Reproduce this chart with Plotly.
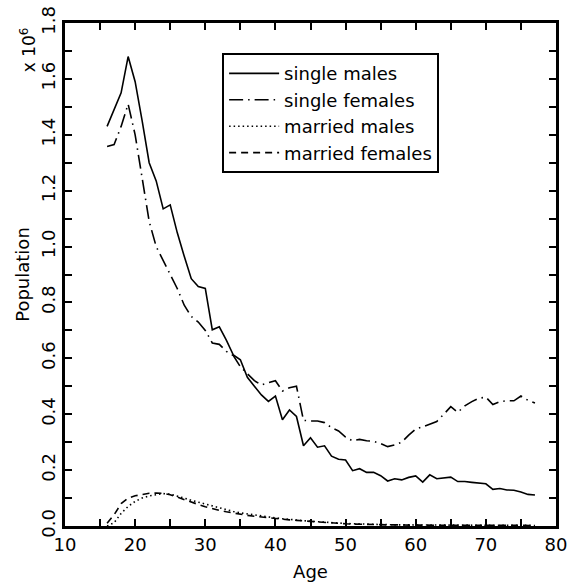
import plotly.graph_objects as go

ages = list(range(16, 78))

single_males = [1.43, 1.49, 1.55, 1.68, 1.59, 1.45, 1.30, 1.235, 1.135, 1.149,
                1.05, 0.965, 0.885, 0.857, 0.85, 0.702, 0.713, 0.665, 0.612, 0.595,
                0.532, 0.50, 0.469, 0.446, 0.465, 0.38, 0.415, 0.392, 0.287, 0.316,
                0.282, 0.287, 0.25, 0.239, 0.236, 0.198, 0.205, 0.192, 0.192, 0.18,
                0.161, 0.169, 0.165, 0.174, 0.179, 0.157, 0.183, 0.169, 0.171, 0.175,
                0.159, 0.159, 0.156, 0.153, 0.151, 0.131, 0.134, 0.129, 0.128, 0.122,
                0.113, 0.111]

single_females = [1.358, 1.365, 1.43, 1.51, 1.40, 1.25, 1.09, 1.00, 0.95, 0.90,
                  0.85, 0.79, 0.75, 0.73, 0.70, 0.655, 0.65, 0.625, 0.61, 0.57,
                  0.545, 0.52, 0.505, 0.513, 0.52, 0.483, 0.495, 0.50, 0.378, 0.376,
                  0.376, 0.37, 0.352, 0.34, 0.318, 0.305, 0.31, 0.305, 0.303, 0.295,
                  0.284, 0.29, 0.30, 0.325, 0.347, 0.355, 0.365, 0.374, 0.40, 0.427,
                  0.407, 0.43, 0.445, 0.457, 0.461, 0.435, 0.445, 0.448, 0.448, 0.465,
                  0.45, 0.44]

married_males = [0.0, 0.012, 0.045, 0.07, 0.088, 0.10, 0.108, 0.113, 0.116, 0.114,
                 0.108, 0.100, 0.092, 0.085, 0.078, 0.071, 0.064, 0.058, 0.052, 0.047,
                 0.043, 0.039, 0.035, 0.032, 0.029, 0.026, 0.023, 0.021, 0.019, 0.017,
                 0.015, 0.013, 0.011, 0.010, 0.009, 0.008, 0.007, 0.006, 0.006, 0.005,
                 0.005, 0.004, 0.004, 0.004, 0.003, 0.003, 0.003, 0.003, 0.003, 0.003,
                 0.002, 0.002, 0.002, 0.002, 0.002, 0.002, 0.002, 0.002, 0.002, 0.002,
                 0.002, 0.002]

married_females = [0.01, 0.04, 0.08, 0.10, 0.108, 0.113, 0.117, 0.118, 0.117, 0.112,
                   0.103, 0.093, 0.085, 0.077, 0.069, 0.062, 0.056, 0.051, 0.046, 0.042,
                   0.038, 0.035, 0.032, 0.029, 0.027, 0.024, 0.022, 0.020, 0.018, 0.016,
                   0.014, 0.012, 0.010, 0.009, 0.008, 0.007, 0.006, 0.005, 0.005, 0.004,
                   0.004, 0.004, 0.003, 0.003, 0.003, 0.003, 0.003, 0.002, 0.002, 0.002,
                   0.002, 0.002, 0.002, 0.002, 0.002, 0.002, 0.002, 0.002, 0.002, 0.002,
                   0.002, 0.002]

series_names = ["single males", "single females", "married males", "married females"]

x_tickvals = list(range(10, 81, 5))
x_ticktext = [str(v) if v % 10 == 0 else "" for v in x_tickvals]
y_tickvals = [round(i * 0.1, 1) for i in range(0, 19)]
y_ticktext = [f"{v:.1f}" if i % 2 == 0 else "" for i, v in enumerate(y_tickvals)]

FONT = "DejaVu Sans"

fig = go.Figure()
styles = [
    dict(color="black", width=1.6, dash="solid"),
    dict(color="black", width=1.6, dash="14px,5px,1.5px,5px"),
    dict(color="black", width=1.6, dash="1.5px,3px"),
    dict(color="black", width=1.6, dash="7px,5px"),
]
for name, vals, st in zip(series_names,
                          [single_males, single_females, married_males, married_females],
                          styles):
    fig.add_trace(go.Scatter(x=ages, y=vals, mode="lines", name=name, line=st))

fig.update_layout(
    width=569, height=582,
    margin=dict(l=65, r=13, t=23, b=56),
    paper_bgcolor="white", plot_bgcolor="white",
    font=dict(family=FONT, size=18, color="black"),
    showlegend=True,
    legend=dict(
        x=0.32, y=0.94, xanchor="left", yanchor="top",
        bordercolor="black", borderwidth=2, bgcolor="white",
        font=dict(family=FONT, size=18),
        itemwidth=50,
        tracegroupgap=0,
    ),
    xaxis=dict(
        range=[10, 80], tickmode="array", tickvals=x_tickvals, ticktext=x_ticktext,
        ticks="inside", ticklen=7, tickwidth=2, tickcolor="black",
        showline=True, linewidth=3, linecolor="black", mirror="allticks",
        showgrid=False, zeroline=False,
        title=dict(text="Age", font=dict(size=18), standoff=12),
        tickfont=dict(size=18), automargin=False,
    ),
    yaxis=dict(
        range=[0, 1.8], tickmode="array", tickvals=y_tickvals, ticktext=y_ticktext,
        ticks="inside", ticklen=7, tickwidth=2, tickcolor="black",
        showline=True, linewidth=3, linecolor="black", mirror="allticks",
        showgrid=False, zeroline=False, tickangle=-90,
        title=dict(text="Population", font=dict(size=18), standoff=4),
        tickfont=dict(size=18), automargin=False,
    ),
    annotations=[
        dict(text="x 10<sup>6</sup>", xref="paper", yref="paper",
             x=-0.075, y=0.946, xanchor="center", yanchor="middle",
             textangle=-90, showarrow=False, font=dict(size=17)),
    ],
)

fig.write_html("out.html")
